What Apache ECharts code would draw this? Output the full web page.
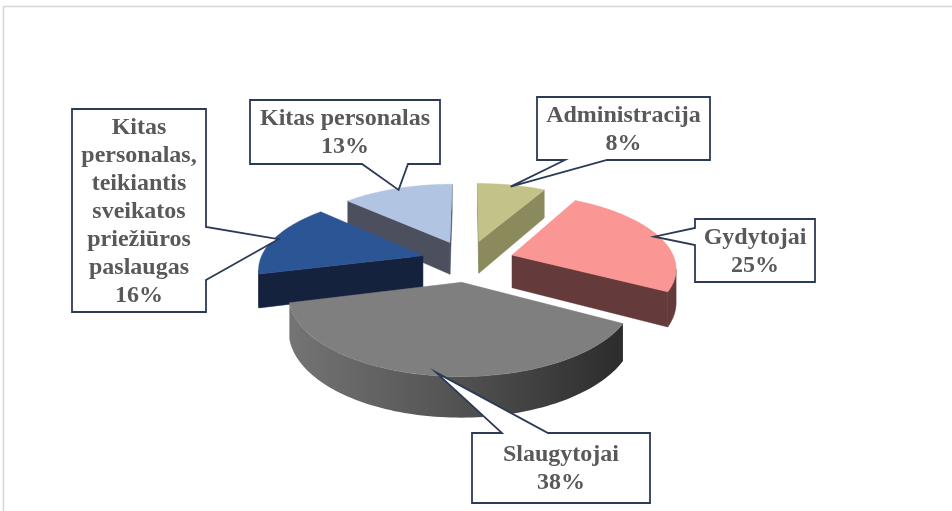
<!DOCTYPE html>
<html><head><meta charset="utf-8">
<script src="https://cdn.jsdelivr.net/npm/echarts@6/dist/echarts.min.js"></script>
<style>html,body{margin:0;padding:0;background:#fff}#c{width:952px;height:511px}</style>
</head><body><div id="c"></div>
<script>
// ---- data ----
const categories = ['Administracija', 'Gydytojai', 'Slaugytojai', 'Kitas personalas, teikiantis sveikatos priežiūros paslaugas', 'Kitas personalas'];
const values = [8, 25, 38, 16, 13];
// label lines as wrapped in the reference
const labelLines = [
  ['Administracija'],
  ['Gydytojai'],
  ['Slaugytojai'],
  ['Kitas', 'personalas,', 'teikiantis', 'sveikatos', 'priežiūros', 'paslaugas'],
  ['Kitas personalas']
];
// ---- styles ----
const topColors = ['#c3c288', '#fa9693', '#7f7f7f', '#2c5596', '#b1c4e2'];
const wallColors = ['#8a8a5c', '#653a3a', '#4a4a4a', '#14223d', '#4b4f5e'];
// callout boxes: left, top, right, bottom, side of wedge, wedge base from, to
const boxes = [
  [537, 97, 710, 160, 'bottom', 565, 607],
  [695, 219, 815, 282, 'left', 228, 245],
  [472, 433, 650, 503, 'top', 502, 548],
  [72, 109, 206, 312, 'right', 227, 280],
  [250, 100, 440, 164, 'bottom', 362, 408]
];
// projection model (pixels)
const P = { cx: 467.7, cy: 260.8, r: 163, d: 46.7, p: 0.000942, b: 0.4439, h: 33 };
const total = values.reduce((a, v) => a + v, 0);
const DEG = Math.PI / 180;
function proj(X, Z, down) {
  const w = 1 - P.p * Z;
  return [P.cx + X / w, P.cy + P.b * Z / w + (down ? P.h / w : 0)];
}
function world(off, phi, rad) {
  return [off[0] + rad * Math.sin(phi * DEG), off[1] - rad * Math.cos(phi * DEG)];
}
function pt(off, phi, rad, down) {
  const w = world(off, phi, rad);
  return proj(w[0], w[1], down);
}
function visible(nx, nz, X, Z) {
  const Zc = 1 / P.p;
  return nx * (0 - X) + nz * (Zc - Z) > 0;
}
function arc(off, a, b, down) {
  const pts = [];
  const n = Math.max(2, Math.ceil(Math.abs(b - a) / 1.5));
  for (let i = 0; i <= n; i++) pts.push(pt(off, a + (b - a) * i / n, P.r, down));
  return pts;
}
function sliceInfo(idx) {
  let cum = 0;
  for (let i = 0; i < idx; i++) cum += values[i];
  const s = cum / total * 360, e = (cum + values[idx]) / total * 360, m = (s + e) / 2;
  const off = [P.d * Math.sin(m * DEG), -P.d * Math.cos(m * DEG)];
  return { s, e, m, off };
}
// depth order of slices (back to front) by slice centre Z
const depthRank = (() => {
  const zs = values.map((v, i) => ({ i, z: sliceInfo(i).off[1] }));
  zs.sort((a, b) => a.z - b.z);
  const rank = [];
  zs.forEach((o, k) => rank[o.i] = k);
  return rank;
})();

function renderItem(params, api) {
  const idx = params.dataIndex;
  const val = api.value(0);
  const S = sliceInfo(idx);
  const base = depthRank[idx] * 10;
  const children = [];
  const c0 = proj(S.off[0], S.off[1], false);
  const c1 = proj(S.off[0], S.off[1], true);
  // start radial wall
  {
    const w = world(S.off, S.s, P.r);
    const nx = -Math.cos(S.s * DEG), nz = -Math.sin(S.s * DEG);
    if (visible(nx, nz, (w[0] + S.off[0]) / 2, (w[1] + S.off[1]) / 2)) {
      children.push({ type: 'polygon', z2: base + 1, shape: { points: [c0, pt(S.off, S.s, P.r, false), pt(S.off, S.s, P.r, true), c1] },
        style: { fill: wallColors[idx], stroke: wallColors[idx], lineWidth: 0.5 } });
    }
  }
  // end radial wall
  {
    const w = world(S.off, S.e, P.r);
    const nx = Math.cos(S.e * DEG), nz = Math.sin(S.e * DEG);
    if (visible(nx, nz, (w[0] + S.off[0]) / 2, (w[1] + S.off[1]) / 2)) {
      children.push({ type: 'polygon', z2: base + 1, shape: { points: [c0, pt(S.off, S.e, P.r, false), pt(S.off, S.e, P.r, true), c1] },
        style: { fill: wallColors[idx], stroke: wallColors[idx], lineWidth: 0.5 } });
    }
  }
  // outer curved wall (visible part)
  {
    let a = null, b = null;
    const step = 0.25;
    for (let phi = S.s; phi <= S.e + 1e-9; phi += step) {
      const w = world(S.off, phi, P.r);
      if (visible(Math.sin(phi * DEG), -Math.cos(phi * DEG), w[0], w[1])) {
        if (a === null) a = phi;
        b = phi;
      }
    }
    if (a !== null && b - a > 0.2) {
      const topA = arc(S.off, a, b, false);
      const botA = arc(S.off, a, b, true).reverse();
      let fill = wallColors[idx];
      if (idx === 2) {
        fill = new echarts.graphic.LinearGradient(0, 0, 1, 0, [
          { offset: 0, color: '#747474' }, { offset: 0.45, color: '#565656' }, { offset: 1, color: '#2c2c2c' }
        ]);
      }
      children.push({ type: 'polygon', z2: base + 2, shape: { points: topA.concat(botA) },
        style: { fill: fill, stroke: idx === 2 ? null : wallColors[idx], lineWidth: 0.5 } });
    }
  }
  // top face
  children.push({ type: 'polygon', z2: base + 5, shape: { points: [c0].concat(arc(S.off, S.s, S.e, false)) },
    style: { fill: topColors[idx], stroke: topColors[idx], lineWidth: 0.5 } });

  // callout
  const bx = boxes[idx];
  const [l, t, r, bt, side, a1, a2] = bx;
  const tip = pt(S.off, S.m, P.r * 0.97, false);
  let path;
  if (side === 'bottom') path = [[l, t], [r, t], [r, bt], [a2, bt], tip, [a1, bt], [l, bt]];
  else if (side === 'top') path = [[l, t], [a1, t], tip, [a2, t], [r, t], [r, bt], [l, bt]];
  else if (side === 'left') path = [[l, t], [r, t], [r, bt], [l, bt], [l, a2], tip, [l, a1]];
  else path = [[l, t], [r, t], [r, a1], tip, [r, a2], [r, bt], [l, bt]];
  children.push({ type: 'polygon', z2: 200, shape: { points: path },
    style: { fill: '#ffffff', stroke: '#2b3a55', lineWidth: 1.8, lineJoin: 'miter' } });
  children.push({ type: 'text', z2: 210, style: {
    text: labelLines[idx].concat([val + '%']).join('\n'),
    x: (l + r) / 2, y: (t + bt) / 2 + 1, align: 'center', verticalAlign: 'middle',
    fill: '#595959', fontSize: 24, fontWeight: 'bold', fontFamily: '"Liberation Serif", "Times New Roman", serif',
    lineHeight: 28
  } });
  return { type: 'group', children };
}

const chart = echarts.init(document.getElementById('c'), null, { renderer: 'canvas' });
chart.setOption({
  animation: false,
  backgroundColor: '#ffffff',
  graphic: [{ type: 'rect', shape: { x: 3.5, y: 6.5, width: 1000, height: 600 }, style: { fill: 'none', stroke: '#d6d6d6', lineWidth: 1.5 }, z: -1 }],
  series: [{
    type: 'custom',
    coordinateSystem: 'none',
    renderItem: renderItem,
    data: values.map((v, i) => ({ name: categories[i], value: [v] }))
  }]
});
</script></body></html>
